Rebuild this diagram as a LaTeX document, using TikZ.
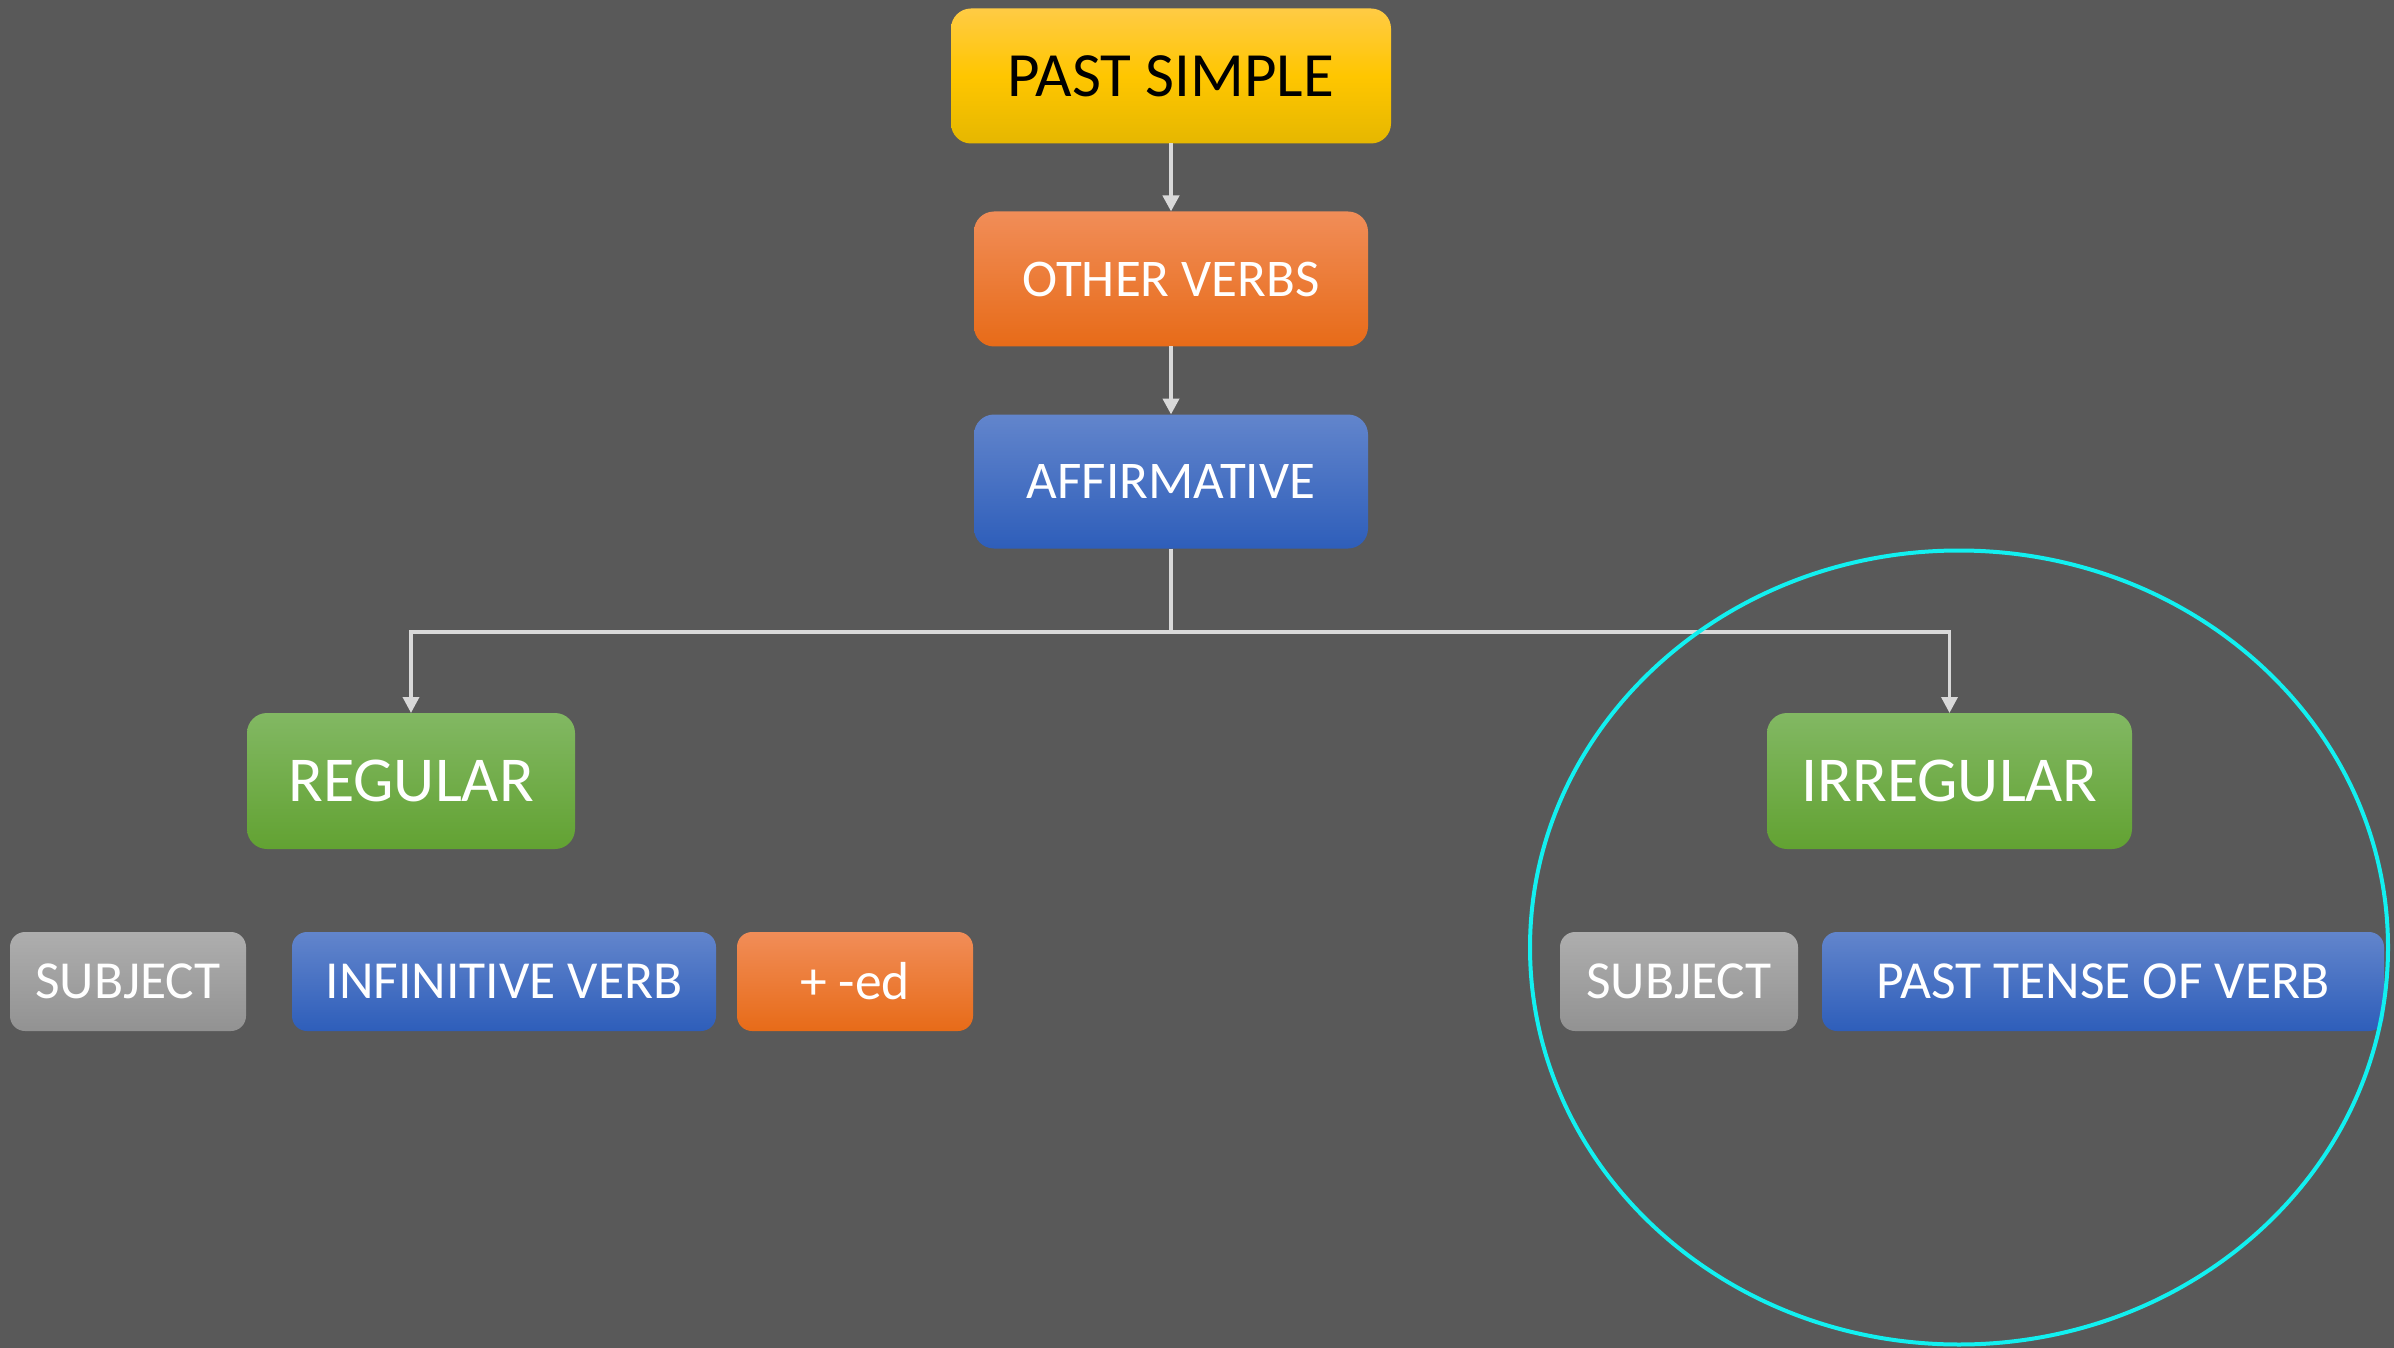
\documentclass[tikz,border=0pt]{standalone}
\usepackage{fontspec}
\setmainfont{Carlito}
\usetikzlibrary{arrows.meta}
\definecolor{bg}{HTML}{595959}
\definecolor{conn}{HTML}{D9D9D9}
\definecolor{ringc}{HTML}{12F0F0}
\tikzset{
  box/.style={shape=rectangle, rounded corners=20pt, inner sep=0pt, outer sep=0pt, text=white, align=center},
  smallbox/.style={box, rounded corners=15pt, minimum height=99pt, font=\fontsize{53.5}{55}\selectfont},
  yellowbox/.style={top color=yellowT, bottom color=yellowB, middle color=yellowM},
  orangebox/.style={top color=orangeT, bottom color=orangeB},
  bluebox/.style={top color=blueT, bottom color=blueB},
  greenbox/.style={top color=greenT, bottom color=greenB},
  graybox/.style={top color=grayT, bottom color=grayB},
  conn/.style={draw=conn, line width=3.5pt},
  arr/.style={conn, -{Triangle[width=16pt,length=16pt]}},
}
\definecolor{yellowT}{HTML}{FFCB45}
\definecolor{yellowM}{HTML}{FFC600}
\definecolor{yellowB}{HTML}{E5B700}
\definecolor{orangeT}{HTML}{F18D58}
\definecolor{orangeB}{HTML}{E76B18}
\definecolor{blueT}{HTML}{6285CC}
\definecolor{blueB}{HTML}{2E5EBA}
\definecolor{greenT}{HTML}{82B863}
\definecolor{greenB}{HTML}{62A232}
\definecolor{grayT}{HTML}{AEAEAE}
\definecolor{grayB}{HTML}{929292}
\begin{document}
\begin{tikzpicture}[x=1pt,y=-1pt]
\fill[bg] (0,0) rectangle (2394,1348);
\useasboundingbox (0,0) rectangle (2394,1348);

\node[box, yellowbox, text=black, minimum width=440pt, minimum height=135pt, font=\fontsize{63}{65}\selectfont] (past) at (1171,76) {PAST SIMPLE};
\node[box, orangebox, minimum width=394pt, minimum height=135pt, font=\fontsize{53}{55}\selectfont] (other) at (1171,279) {OTHER VERBS};
\node[box, bluebox, minimum width=394pt, minimum height=134pt, font=\fontsize{53}{55}\selectfont] (affirm) at (1171,481.5) {AFFIRMATIVE};
\node[box, greenbox, minimum width=328pt, minimum height=136pt, font=\fontsize{64}{66}\selectfont] (regular) at (411,781) {REGULAR};
\node[box, greenbox, minimum width=365pt, minimum height=136pt, font=\fontsize{64}{66}\selectfont] (irregular) at (1949.5,781) {IRREGULAR};

\node[smallbox, graybox, minimum width=236pt] (subj1) at (128,981.5) {SUBJECT};
\node[smallbox, bluebox, minimum width=424pt] (inf) at (504,981.5) {INFINITIVE VERB};
\node[smallbox, orangebox, minimum width=236pt] (ed) at (855,981.5) {+ -ed};
\node[smallbox, graybox, minimum width=238pt] (subj2) at (1679,981.5) {SUBJECT};
\node[smallbox, bluebox, minimum width=562pt] (pastt) at (2103,981.5) {PAST TENSE OF VERB};

\coordinate (j) at (1171,632);
\draw[arr, line width=4.5pt] (past) -- (other);
\draw[arr, line width=4.5pt] (other) -- (affirm);
\draw[conn] (affirm.south) -- (j);
\draw[arr] (j) -| (regular.north);
\draw[arr] (j) -| (irregular.north);

\draw[ringc, line width=4pt] (1959,947.5) ellipse [x radius=429pt, y radius=397pt];
\end{tikzpicture}
\end{document}
